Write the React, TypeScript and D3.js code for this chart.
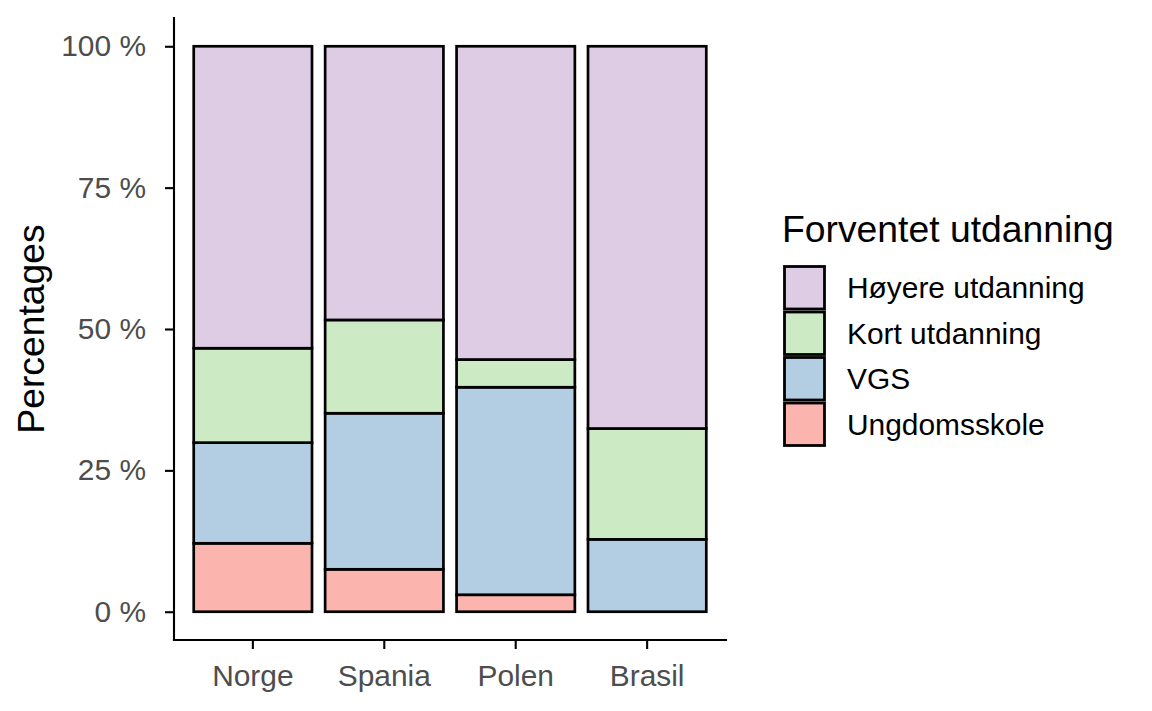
import { axisBottom, axisLeft, scaleBand, scaleLinear, scaleOrdinal, select, stack } from "d3";
import { useEffect, useRef } from "react";

const countries = ["Norge", "Spania", "Polen", "Brasil"];
const levels = ["Ungdomsskole", "VGS", "Kort utdanning", "Høyere utdanning"];
const ungdomsskole = [12.1, 7.5, 3.0, 0];
const vgs = [17.8, 27.6, 36.7, 12.8];
const kortUtdanning = [16.7, 16.5, 4.9, 19.6];
const hoyereUtdanning = [53.4, 48.4, 55.4, 67.6];
const yTicks = [0, 25, 50, 75, 100];
const colours = ["#FBB4AE", "#B3CDE3", "#CCEBC5", "#DECBE4"];

const W = 1152;
const H = 711;
const panel = { left: 174, right: 726, top: 18, bottom: 640 };
const font = "'Liberation Sans', Arial, sans-serif";
const textSize = 29.9;
const titleSize = 37.3;

const rows = countries.map((c, i) => ({
  country: c,
  Ungdomsskole: ungdomsskole[i],
  VGS: vgs[i],
  "Kort utdanning": kortUtdanning[i],
  "Høyere utdanning": hoyereUtdanning[i],
}));

const App = () => {
  const ref = useRef<SVGSVGElement>(null);

  useEffect(() => {
    const svg = select(ref.current);
    svg.selectAll("*").remove();

    const x = scaleBand()
      .domain(countries)
      .range([panel.left, panel.right])
      .paddingInner(0.1)
      .paddingOuter(0.15);

    // 5% expansion on both ends, like ggplot
    const pad = (panel.bottom - panel.top) * (0.05 / 1.1);
    const y = scaleLinear().domain([0, 100]).range([panel.bottom - pad, panel.top + pad]);

    const colour = scaleOrdinal<string, string>().domain(levels).range(colours);
    const series = stack<any>().keys(levels)(rows);

    svg
      .append("g")
      .selectAll("g")
      .data(series)
      .join("g")
      .attr("fill", (d) => colour(d.key))
      .selectAll("rect")
      .data((d) => d.filter((p) => p[1] - p[0] > 0))
      .join("rect")
      .attr("x", (d) => x(d.data.country)!)
      .attr("width", x.bandwidth())
      .attr("y", (d) => y(d[1]))
      .attr("height", (d) => y(d[0]) - y(d[1]))
      .attr("stroke", "#000")
      .attr("stroke-width", 2.7);

    const yAxis = svg
      .append("g")
      .attr("transform", `translate(${panel.left},0)`)
      .call(axisLeft(y).tickValues(yTicks).tickSize(9).tickPadding(19).tickFormat((d) => `${d} %`));
    yAxis.select(".domain").attr("d", `M0,${panel.top}V${panel.bottom}`);

    const xAxis = svg
      .append("g")
      .attr("transform", `translate(0,${panel.bottom})`)
      .call(axisBottom(x).tickSize(9).tickPadding(16));
    xAxis.select(".domain").attr("d", `M${panel.left},0H${panel.right}`);

    svg.selectAll(".domain").attr("stroke", "#000").attr("stroke-width", 2.1).attr("stroke-linecap", "square");
    svg.selectAll(".tick line").attr("stroke", "#000").attr("stroke-width", 2.1);
    svg
      .selectAll(".tick text")
      .attr("fill", "#4D4D4D")
      .attr("font-size", textSize)
      .attr("font-family", font);

    svg
      .append("text")
      .attr("transform", `translate(44,${(panel.top + panel.bottom) / 2}) rotate(-90)`)
      .attr("text-anchor", "middle")
      .attr("font-size", titleSize)
      .attr("font-family", font)
      .text("Percentages");

    const legend = svg.append("g").attr("transform", "translate(783,0)");
    legend
      .append("text")
      .attr("x", -1)
      .attr("y", 242)
      .attr("font-size", titleSize)
      .attr("font-family", font)
      .text("Forventet utdanning");

    const items = [...levels].reverse();
    const keyY = scaleBand().domain(items).range([265, 447]);
    const item = legend
      .selectAll("g.item")
      .data(items)
      .join("g")
      .attr("class", "item")
      .attr("transform", (d) => `translate(0,${keyY(d)})`);
    item
      .append("rect")
      .attr("x", 1.5)
      .attr("y", 1.5)
      .attr("width", 40)
      .attr("height", keyY.bandwidth() - 3)
      .attr("fill", (d) => colour(d))
      .attr("stroke", "#000")
      .attr("stroke-width", 2.8);
    item
      .append("text")
      .attr("x", 64)
      .attr("y", keyY.bandwidth() / 2)
      .attr("dy", "0.35em")
      .attr("font-size", textSize)
      .attr("font-family", font)
      .text((d) => d);
  }, []);

  return (
    <svg
      ref={ref}
      width={W}
      height={H}
      style={{ position: "absolute", left: 0, top: 0, background: "#fff" }}
    />
  );
};

export default App;
